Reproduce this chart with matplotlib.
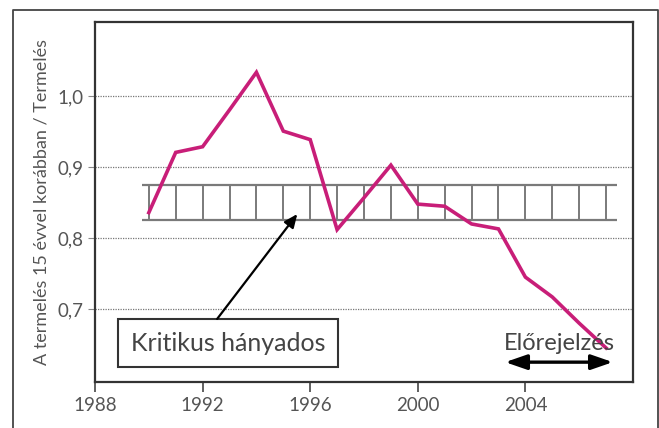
import matplotlib.pyplot as plt
from matplotlib.lines import Line2D

# values
years = [1990, 1991, 1992, 1993, 1994, 1995, 1996, 1997, 1998, 1999,
         2000, 2001, 2002, 2003, 2004, 2005, 2006, 2007]
ratio = [0.836, 0.921, 0.929, 0.981, 1.034, 0.951, 0.939, 0.812, 0.857, 0.903,
         0.848, 0.845, 0.820, 0.813, 0.745, 0.717, 0.680, 0.645]

band_low, band_high = 0.825, 0.875
band_start, band_end = 1989.75, 2007.4

xticks = [1988, 1992, 1996, 2000, 2004]
yticks = [0.7, 0.8, 0.9, 1.0]
ytick_labels = ["0,7", "0,8", "0,9", "1,0"]

plt.rcParams["font.family"] = ["Lato", "DejaVu Sans"]
grey = "#555555"

fig = plt.figure(figsize=(6.59, 4.28), dpi=100)
ax = fig.add_axes([0.1442, 0.1075, 0.8163, 0.8411])

# outer frame around the whole figure
fig.add_artist(Line2D([13 / 659, 13 / 659, 658 / 659, 658 / 659],
                      [-0.1, 1 - 10 / 428, 1 - 10 / 428, -0.1],
                      transform=fig.transFigure, color="#444444", lw=1.3))

# dotted grid lines
for y in yticks:
    ax.axhline(y, color="#777777", lw=0.9, ls=(0, (1, 1)), zorder=1)

# critical ratio band: two rails with vertical rungs every year
ax.hlines([band_low, band_high], band_start, band_end, color="#7a7a7a", lw=1.6, zorder=2)
ax.vlines(years, band_low, band_high, color="#7a7a7a", lw=1.4, zorder=2)

ax.plot(years, ratio, color="#c81e78", lw=2.6, zorder=3, solid_joinstyle="miter")

ax.set_xlim(1988, 2008)
ax.set_ylim(0.597, 1.105)
ax.set_xticks(xticks)
ax.set_yticks(yticks)
ax.set_yticklabels(ytick_labels)
ax.tick_params(axis="x", direction="out", length=7, width=1.2, colors="#444444",
               labelcolor=grey, labelsize=13.5, pad=4)
ax.tick_params(axis="y", length=5, width=0.8, colors="#888888",
               labelcolor=grey, labelsize=13.5, pad=3)
for s in ax.spines.values():
    s.set_color("#333333")
    s.set_linewidth(1.6)

ax.set_ylabel("A termelés 15 évvel korábban / Termelés", color=grey, fontsize=13, labelpad=6)

# annotation box with arrow
ax.text(1992.95, 0.652, "Kritikus hányados", ha="center", va="center", fontsize=18,
        color="#444444",
        bbox=dict(boxstyle="square,pad=0.5", fc="white", ec="#333333", lw=1.5))
ax.annotate("", xy=(1995.52, 0.834), xytext=(1992.54, 0.686),
            arrowprops=dict(arrowstyle="-|>,head_length=0.8,head_width=0.35",
                            color="black", lw=1.6, shrinkA=0, shrinkB=0), zorder=4)

# forecast label with double-headed arrow
ax.text(2005.25, 0.652, "Előrejelzés", ha="center", va="center", fontsize=17,
        color="#444444", zorder=5)
ax.annotate("", xy=(2007.25, 0.625), xytext=(2003.25, 0.625),
            arrowprops=dict(arrowstyle="<|-|>,head_length=1.3,head_width=0.45",
                            color="black", lw=2.4, shrinkA=0, shrinkB=0))

fig.savefig("out.png", dpi=100)
